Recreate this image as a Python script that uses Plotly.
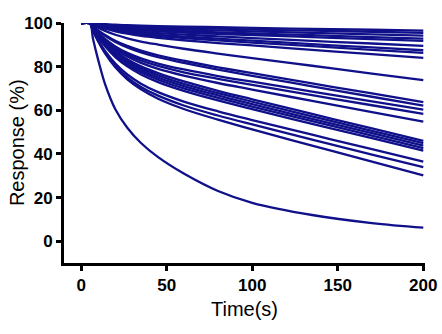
import plotly.graph_objects as go

# Sampling times (s) shared by every dissociation trace
time_s = [0, 5, 7, 10, 14, 20, 27, 35, 45, 60, 80, 100, 135, 170, 200]

# Response (%) of each trace at the sampling times, from top to bottom
resp_01 = [100, 100, 99.9, 99.7, 99.5, 99.2, 99.0, 98.8, 98.6, 98.3, 98.1, 97.8, 97.3, 96.9, 96.5]
resp_02 = [100, 100, 99.8, 99.5, 99.2, 98.9, 98.6, 98.3, 98.0, 97.7, 97.4, 97.0, 96.5, 96.0, 95.5]
resp_03 = [100, 100, 99.7, 99.4, 99.0, 98.5, 98.1, 97.7, 97.4, 97.0, 96.6, 96.2, 95.5, 94.8, 94.2]
resp_04 = [100, 100, 99.7, 99.2, 98.7, 98.2, 97.6, 97.2, 96.8, 96.3, 95.7, 95.2, 94.4, 93.5, 92.8]
resp_05 = [100, 100, 99.6, 99.1, 98.5, 97.8, 97.2, 96.7, 96.2, 95.6, 95.0, 94.5, 93.5, 92.6, 91.8]
resp_06 = [100, 100, 99.5, 98.9, 98.2, 97.4, 96.6, 96.0, 95.4, 94.7, 93.9, 93.1, 91.8, 90.6, 89.5]
resp_07 = [100, 100, 99.5, 98.7, 97.9, 97.0, 96.1, 95.4, 94.6, 93.8, 92.8, 91.9, 90.3, 88.8, 87.5]
resp_08 = [100, 100, 99.4, 98.6, 97.7, 96.6, 95.7, 94.8, 94.0, 93.1, 92.0, 91.0, 89.4, 87.7, 86.3]
resp_09 = [100, 100, 99.3, 98.4, 97.4, 96.2, 95.1, 94.1, 93.2, 92.1, 90.8, 89.7, 87.7, 85.7, 84.0]
resp_10 = [100, 100, 99.1, 97.8, 96.4, 94.6, 93.0, 91.5, 90.1, 88.2, 86.0, 83.9, 80.4, 76.8, 73.8]
resp_11 = [100, 100, 98.6, 96.6, 94.5, 91.8, 89.5, 87.3, 85.2, 82.7, 79.7, 77.0, 72.3, 67.7, 63.7]
resp_12 = [100, 100, 98.5, 96.4, 94.1, 91.3, 88.8, 86.5, 84.3, 81.7, 78.6, 75.8, 71.0, 66.2, 62.1]
resp_13 = [100, 100, 98.1, 95.5, 92.7, 89.3, 86.3, 83.8, 81.4, 78.7, 75.7, 73.1, 68.6, 64.1, 60.3]
resp_14 = [100, 100, 97.9, 95.2, 92.2, 88.6, 85.5, 82.8, 80.3, 77.4, 74.4, 71.6, 66.9, 62.3, 58.4]
resp_15 = [100, 100, 97.8, 94.9, 91.7, 87.9, 84.6, 81.7, 79.0, 75.9, 72.5, 69.5, 64.3, 59.2, 54.8]
resp_16 = [100, 100, 97.7, 94.7, 91.2, 87.1, 83.4, 80.1, 77.0, 73.2, 68.9, 65.0, 58.3, 51.7, 46.0]
resp_17 = [100, 100, 97.6, 94.4, 90.7, 86.4, 82.6, 79.2, 76.0, 72.1, 67.9, 63.9, 57.2, 50.6, 44.9]
resp_18 = [100, 100, 97.5, 94.1, 90.3, 85.8, 81.8, 78.3, 75.0, 71.1, 66.8, 62.8, 56.1, 49.5, 43.8]
resp_19 = [100, 100, 97.3, 93.8, 89.8, 85.1, 80.9, 77.4, 74.0, 70.0, 65.7, 61.7, 55.0, 48.4, 42.7]
resp_20 = [100, 100, 97.2, 93.5, 89.3, 84.4, 80.1, 76.4, 72.9, 68.9, 64.5, 60.5, 53.8, 47.2, 41.5]
resp_21 = [100, 100, 96.6, 92.2, 87.2, 81.4, 76.4, 72.2, 68.3, 64.0, 59.5, 55.5, 48.8, 42.2, 36.5]
resp_22 = [100, 100, 96.4, 91.7, 86.5, 80.4, 75.1, 70.7, 66.7, 62.2, 57.6, 53.5, 46.6, 39.7, 33.9]
resp_23 = [100, 100, 96.3, 91.5, 86.1, 79.7, 74.2, 69.6, 65.3, 60.6, 55.7, 51.2, 43.8, 36.5, 30.2]
resp_24 = [100, 100, 92.5, 83.0, 72.0, 60.5, 52.0, 45.0, 38.5, 31.0, 23.0, 17.6, 12.0, 8.3, 6.2]

responses = [
    resp_01, resp_02, resp_03, resp_04, resp_05, resp_06, resp_07, resp_08,
    resp_09, resp_10, resp_11, resp_12, resp_13, resp_14, resp_15, resp_16,
    resp_17, resp_18, resp_19, resp_20, resp_21, resp_22, resp_23, resp_24,
]

x_ticks = [0, 50, 100, 150, 200]
y_ticks = [0, 20, 40, 60, 80, 100]

LINE_COLOR = "#10108a"
FONT = "Liberation Sans, Arial, sans-serif"

fig = go.Figure()
for resp in responses:
    fig.add_trace(go.Scatter(
        x=time_s, y=resp, mode="lines",
        line=dict(color=LINE_COLOR, width=2.3, shape="spline", smoothing=1.0),
        showlegend=False, hoverinfo="skip",
    ))

axis_common = dict(
    showgrid=False, zeroline=False, automargin=False,
    showline=True, linecolor="black", linewidth=3,
    ticks="outside", ticklen=5, tickwidth=3, tickcolor="black",
    tickfont=dict(family=FONT, size=17, color="black", weight="bold"),
)

fig.update_layout(
    width=442, height=334,
    margin=dict(l=64, r=17, t=23, b=71),
    paper_bgcolor="white", plot_bgcolor="white",
    xaxis=dict(range=[-10, 201], tickvals=x_ticks, **axis_common),
    yaxis=dict(range=[-10, 100], tickvals=y_ticks, **axis_common),
    annotations=[
        dict(text="Time(s)", xref="paper", yref="paper", x=0.5, y=-0.19,
             xanchor="center", yanchor="middle", showarrow=False,
             font=dict(family=FONT, size=20, color="black")),
        dict(text="Response (%)", xref="paper", yref="paper", x=-0.13, y=0.5,
             xanchor="center", yanchor="middle", textangle=-90, showarrow=False,
             font=dict(family=FONT, size=20, color="black")),
    ],
)

fig.write_html("out.html")
